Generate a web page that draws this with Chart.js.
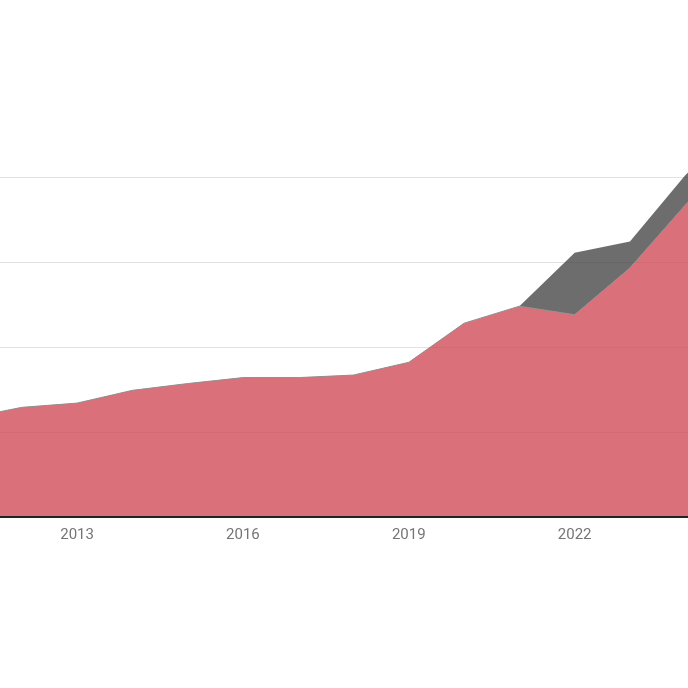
<!DOCTYPE html>
<html>
<head>
<meta charset="utf-8">
<script src="https://cdn.jsdelivr.net/npm/chart.js@4/dist/chart.umd.min.js"></script>
<style>
  html, body { margin: 0; padding: 0; background: #fff; }
  #wrap { width: 688px; height: 688px; }
</style>
</head>
<body>
<div id="wrap"><canvas id="area"></canvas></div>
<script>
// values (one gridline = 100)
const years = [2011, 2012, 2013, 2014, 2015, 2016, 2017, 2018, 2019, 2020, 2021, 2022, 2023, 2024, 2025];
const mainValues = [116, 129, 134, 149, 157, 164, 164, 167, 182, 228, 248, 238, 293, 367, 430];
const extraValues = [0, 0, 0, 0, 0, 0, 0, 0, 0, 0, 0, 73, 31, 35, 38];
const tickYears = [2013, 2016, 2019, 2022];

////////////////////////////////////////////////////////////////////////////////////

const area = document.querySelector("#area");

const toPoints = (vals) => years.map((y, i) => ({ x: y, y: vals[i] }));

const myAreaChart = new Chart(area, {
    type: "line",
    data: {
        datasets: [
            {
                label: "main",
                data: toPoints(mainValues),
                fill: "origin",
                backgroundColor: "rgba(204, 64, 78, 0.75)",
                borderColor: "#8f8f8f",
                borderWidth: 1,
                pointRadius: 0,
                tension: 0
            },
            {
                label: "extra",
                data: toPoints(extraValues),
                fill: "-1",
                backgroundColor: "rgba(60, 60, 60, 0.75)",
                borderColor: "rgba(60, 60, 60, 0.75)",
                borderWidth: 0,
                pointRadius: 0,
                tension: 0
            }
        ]
    },
    options: {
        animation: false,
        responsive: true,
        maintainAspectRatio: false,
        layout: { padding: { top: 109, left: 0, right: 0, bottom: 0 } },
        plugins: {
            legend: { display: false },
            tooltip: { enabled: false }
        },
        scales: {
            x: {
                type: "linear",
                min: 2011.606,
                max: 2024.05,
                grid: { display: false, drawTicks: false },
                border: { display: true, color: "#222", width: 2, z: 1 },
                afterBuildTicks: (scale) => {
                    scale.ticks = tickYears.map((v) => ({ value: v }));
                },
                afterFit: (scale) => { scale.height = 171; },
                ticks: {
                    padding: 9,
                    color: "#757575",
                    font: { family: "Roboto", size: 15 },
                    maxRotation: 0,
                    autoSkip: false,
                    callback: (v) => String(v)
                }
            },
            y: {
                stacked: true,
                min: 0,
                max: 480,
                display: true,
                ticks: { display: false, stepSize: 100 },
                border: { display: false },
                grid: {
                    drawTicks: false,
                    lineWidth: 1,
                    color: (ctx) => (ctx.tick && ctx.tick.value > 0 && ctx.tick.value <= 400) ? "#e2e2e2" : "rgba(0,0,0,0)"
                },
                afterFit: (scale) => { scale.width = 0; }
            }
        }
    }
});
</script>
</body>
</html>
